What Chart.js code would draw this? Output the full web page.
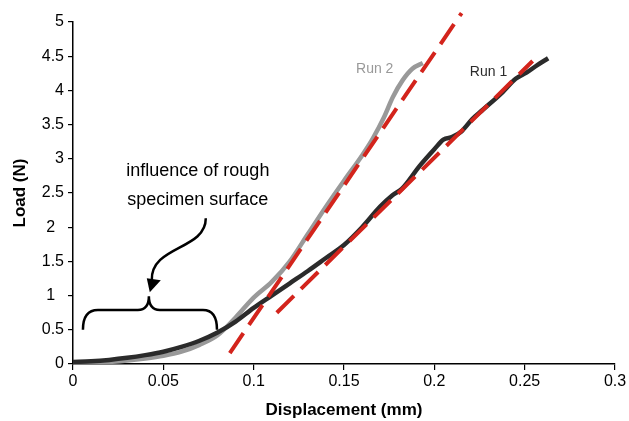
<!DOCTYPE html>
<html>
<head>
<meta charset="utf-8">
<script src="https://cdn.jsdelivr.net/npm/chart.js@4"></script>
<style>
    html, body { margin: 0; padding: 0; background: #ffffff; }
    #wrap { width: 629px; height: 421px; }
</style>
</head>
<body>
<div id="wrap"><canvas id="loadChart"></canvas></div>
<script>
// Load-displacement curves of two runs, each with a red dashed linear fit.

const run1X = [0, 0.01, 0.02, 0.03, 0.04, 0.05, 0.06, 0.07, 0.08, 0.09, 0.1, 0.11, 0.12, 0.13, 0.14, 0.15, 0.16, 0.17, 0.177, 0.182, 0.192, 0.2, 0.205, 0.21, 0.215, 0.221, 0.227, 0.238, 0.245, 0.251, 0.257, 0.263];
const run1Y = [0.03, 0.04, 0.06, 0.09, 0.13, 0.18, 0.25, 0.34, 0.46, 0.62, 0.82, 1.0, 1.18, 1.36, 1.55, 1.74, 2.0, 2.3, 2.47, 2.56, 2.9, 3.14, 3.28, 3.32, 3.4, 3.58, 3.72, 3.98, 4.17, 4.26, 4.37, 4.47];

const run2X = [0, 0.01, 0.02, 0.03, 0.04, 0.05, 0.06, 0.07, 0.08, 0.09, 0.1, 0.11, 0.12, 0.13, 0.14, 0.15, 0.16, 0.166, 0.172, 0.177, 0.1825, 0.188, 0.1936];
const run2Y = [0.02, 0.02, 0.03, 0.05, 0.08, 0.12, 0.18, 0.28, 0.42, 0.68, 0.97, 1.2, 1.5, 1.9, 2.3, 2.68, 3.05, 3.3, 3.6, 3.9, 4.15, 4.32, 4.4];

// Linear fits (start and end of each dashed line)
const fit1X = [0.0868, 0.2151];
const fit1Y = [0.16, 5.13];
const fit2X = [0.1128, 0.2544];
const fit2Y = [0.75, 4.43];

const xTickLabels = ['0', '0.05', '0.1', '0.15', '0.2', '0.25', '0.3'];
const yTickLabels = ['0', '0.5', '1  ', '1.5', '2  ', '2.5', '3', '3.5', '4', '4.5', '5'];

const runLabels = ['Run 1', 'Run 2'];
const noteLines = ['influence of rough', 'specimen surface'];

const COLORS = { run1: '#2b2b2b', run2: '#999999', fit: '#d3241c', text: '#000000' };
const FONT = 'Liberation Sans, Arial, Helvetica, sans-serif';

const toPoints = (xs, ys) => xs.map((x, i) => ({ x, y: ys[i] }));

// Annotations: run names, note text, brace and curved arrow (in data units)
const annotationPlugin = {
    id: 'annotations',
    afterDatasetsDraw(chart) {
        const { ctx, scales: { x, y } } = chart;
        const px = v => x.getPixelForValue(v);
        const py = v => y.getPixelForValue(v);

        ctx.save();
        ctx.textAlign = 'center';
        ctx.textBaseline = 'middle';
        ctx.font = '14px ' + FONT;
        ctx.fillStyle = COLORS.run1;
        ctx.fillText(runLabels[0], px(0.230), py(4.27));
        ctx.fillStyle = COLORS.run2;
        ctx.fillText(runLabels[1], px(0.167), py(4.31));

        ctx.fillStyle = COLORS.text;
        ctx.font = '18px ' + FONT;
        ctx.fillText(noteLines[0], px(0.0691), py(2.82));
        ctx.fillText(noteLines[1], px(0.0691), py(2.40));

        // curly brace
        const L = px(0.0055), M = px(0.042), R = px(0.0797);
        const yEnd = py(0.5), yBar = py(0.79), yTip = py(0.99);
        ctx.strokeStyle = '#000';
        ctx.lineWidth = 2.5;
        ctx.beginPath();
        ctx.moveTo(L, yEnd);
        ctx.bezierCurveTo(L, yBar + 6, L + 5, yBar, L + 15, yBar);
        ctx.lineTo(M - 11, yBar);
        ctx.bezierCurveTo(M - 3, yBar, M, yBar - 5, M, yTip);
        ctx.bezierCurveTo(M, yBar - 5, M + 3, yBar, M + 11, yBar);
        ctx.lineTo(R - 14, yBar);
        ctx.bezierCurveTo(R - 5, yBar, R, yBar + 6, R, yEnd);
        ctx.stroke();

        // curved arrow
        const ax0 = px(0.0735), ay0 = py(2.13);
        const tipX = px(0.0425), tipY = py(1.05);
        ctx.beginPath();
        ctx.moveTo(ax0, ay0);
        ctx.bezierCurveTo(ax0, ay0 + 32, tipX + 1, ay0 + 27, tipX + 2, tipY - 12);
        ctx.stroke();
        ctx.fillStyle = '#000';
        ctx.beginPath();
        ctx.moveTo(tipX, tipY);
        ctx.lineTo(tipX - 3, tipY - 14);
        ctx.lineTo(tipX + 11, tipY - 12);
        ctx.closePath();
        ctx.fill();
        ctx.restore();
    }
};

const ctx = document.getElementById('loadChart').getContext('2d');
new Chart(ctx, {
    type: 'scatter',
    data: {
        datasets: [
            { label: 'Fit 2', data: toPoints(fit1X, fit1Y), showLine: true, borderColor: COLORS.fit, borderWidth: 4, borderDash: [24, 10], borderCapStyle: 'butt', pointRadius: 0, clip: false, order: 0 },
            { label: 'Fit 1', data: toPoints(fit2X, fit2Y), showLine: true, borderColor: COLORS.fit, borderWidth: 4, borderDash: [24, 10], borderCapStyle: 'butt', pointRadius: 0, order: 0 },
            { label: runLabels[0], data: toPoints(run1X, run1Y), showLine: true, borderColor: COLORS.run1, borderWidth: 4.5, cubicInterpolationMode: 'monotone', pointRadius: 0, order: 1 },
            { label: runLabels[1], data: toPoints(run2X, run2Y), showLine: true, borderColor: COLORS.run2, borderWidth: 4.5, cubicInterpolationMode: 'monotone', pointRadius: 0, order: 2 }
        ]
    },
    options: {
        responsive: true,
        maintainAspectRatio: false,
        animation: false,
        layout: { padding: { top: 22, right: 14, left: 0, bottom: 0 } },
        plugins: { legend: { display: false }, tooltip: { enabled: false } },
        scales: {
            x: {
                type: 'linear', min: 0, max: 0.3,
                afterFit: s => { s.height = 57; },
                border: { color: '#000', width: 1.5 },
                grid: { display: true, drawOnChartArea: false, drawTicks: true, tickLength: 6, color: '#000', lineWidth: 1.2 },
                ticks: { stepSize: 0.05, padding: 2, color: '#000', font: { family: FONT, size: 16 }, maxRotation: 0, callback: (v, i) => xTickLabels[i] },
                title: { display: true, text: 'Displacement (mm)', color: '#000', font: { family: FONT, size: 17, weight: 'bold' }, padding: 0 }
            },
            y: {
                type: 'linear', min: 0, max: 5,
                afterFit: s => { s.width = 73; },
                border: { color: '#000', width: 1.5 },
                grid: { display: true, drawOnChartArea: false, drawTicks: true, tickLength: 5, color: '#000', lineWidth: 1.2 },
                ticks: { stepSize: 0.5, padding: 4, color: '#000', font: { family: FONT, size: 16 }, callback: (v, i) => yTickLabels[i] },
                title: { display: true, text: 'Load (N)', color: '#000', font: { family: FONT, size: 17, weight: 'bold' }, padding: 10 }
            }
        }
    },
    plugins: [annotationPlugin]
});
</script>
</body>
</html>
